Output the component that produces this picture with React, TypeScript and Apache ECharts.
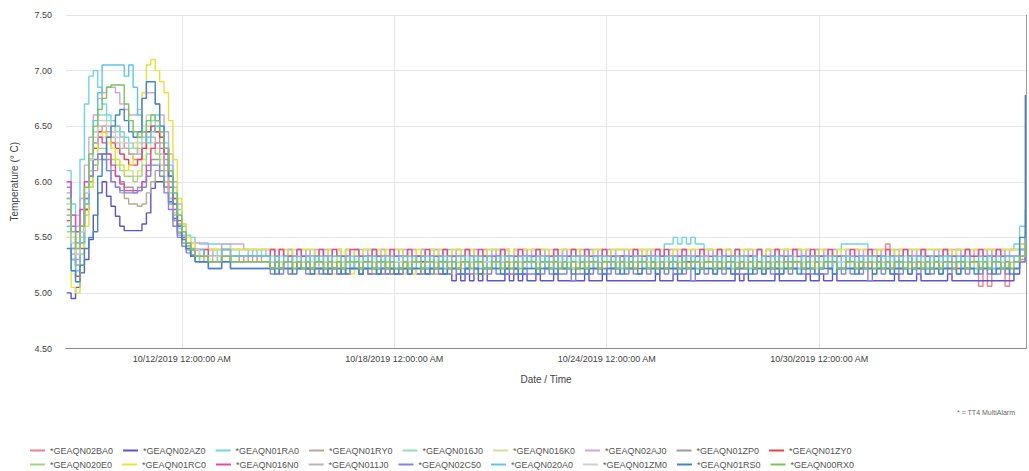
import React, { useEffect, useRef } from "react";
import * as echarts from "echarts";

const SERIES_NAMES = [
  "*GEAQN02BA0", "*GEAQN02AZ0", "*GEAQN01RA0", "*GEAQN01RY0", "*GEAQN016J0", "*GEAQN016K0",
  "*GEAQN02AJ0", "*GEAQN01ZP0", "*GEAQN01ZY0", "*GEAQN020E0", "*GEAQN01RC0", "*GEAQN016N0",
  "*GEAQN011J0", "*GEAQN02C50", "*GEAQN020A0", "*GEAQN01ZM0", "*GEAQN01RS0", "*GEAQN00RX0",
];
const SERIES_COLORS = [
  "#e58592", "#5a55c8", "#72d3e2", "#b9a993", "#96dcb8", "#d9dc9c",
  "#c6a9e3", "#9c9c9c", "#e2444f", "#9fd67f", "#e6e23a", "#e04aa6",
  "#beb3b3", "#8383e3", "#5ec6ea", "#cfcfcf", "#4584c8", "#79c45c",
];

// x values are days relative to 10/12/2019 12:00:00 AM
const X_TICK_DAYS = [0, 6, 12, 18];
const X_TICK_LABELS = [
  "10/12/2019 12:00:00 AM", "10/18/2019 12:00:00 AM", "10/24/2019 12:00:00 AM", "10/30/2019 12:00:00 AM",
];

// warm-up period, sampled every 3 hours
const PEAK_START = -3.25;
const PEAK_STEP = 0.125;
const PEAK_02BA0 = [5.70, 5.40, 5.30, 5.55, 5.85, 6.10, 6.30, 6.45, 6.50, 6.50, 6.45, 6.50, 6.40, 6.30, 6.25, 6.20, 6.20, 6.30, 6.45, 6.50, 6.45, 6.35, 6.20, 6.00, 5.80, 5.62, 5.52, 5.45, 5.40, 5.39, 5.39, 5.33, 5.39, 5.33, 5.33];
const PEAK_02AZ0 = [5.00, 4.95, 5.05, 5.18, 5.30, 5.48, 5.70, 5.90, 6.00, 5.87, 5.78, 5.69, 5.60, 5.56, 5.56, 5.56, 5.56, 5.62, 5.72, 5.94, 6.00, 6.00, 5.95, 5.82, 5.67, 5.54, 5.45, 5.39, 5.34, 5.33, 5.33, 5.33, 5.28, 5.28, 5.28];
const PEAK_01RA0 = [6.10, 5.80, 5.70, 6.20, 6.70, 6.95, 7.00, 6.85, 6.70, 6.60, 6.55, 6.50, 6.45, 6.40, 6.35, 6.30, 6.25, 6.30, 6.40, 6.55, 6.60, 6.50, 6.35, 6.15, 5.95, 5.75, 5.60, 5.52, 5.50, 5.45, 5.45, 5.45, 5.44, 5.44, 5.44];
const PEAK_01RY0 = [5.90, 5.50, 5.35, 5.50, 5.75, 5.95, 6.10, 6.20, 6.20, 6.10, 6.00, 5.95, 5.90, 5.85, 5.80, 5.80, 5.78, 5.80, 5.90, 6.00, 6.10, 6.10, 6.00, 5.85, 5.70, 5.55, 5.45, 5.39, 5.33, 5.33, 5.33, 5.28, 5.28, 5.28, 5.28];
const PEAK_016J0 = [5.85, 5.45, 5.25, 5.50, 5.90, 6.20, 6.45, 6.60, 6.60, 6.55, 6.50, 6.45, 6.40, 6.35, 6.30, 6.30, 6.35, 6.40, 6.50, 6.55, 6.50, 6.40, 6.25, 6.05, 5.85, 5.65, 5.52, 5.45, 5.39, 5.39, 5.39, 5.33, 5.33, 5.39, 5.33];
const PEAK_016K0 = [5.80, 5.50, 5.40, 5.60, 5.90, 6.10, 6.30, 6.40, 6.40, 6.35, 6.30, 6.20, 6.15, 6.10, 6.10, 6.05, 6.10, 6.20, 6.30, 6.35, 6.30, 6.20, 6.05, 5.90, 5.75, 5.60, 5.50, 5.45, 5.45, 5.39, 5.39, 5.39, 5.39, 5.39, 5.39];
const PEAK_02AJ0 = [6.00, 5.70, 5.60, 5.85, 6.15, 6.40, 6.60, 6.75, 6.80, 6.85, 6.85, 6.80, 6.70, 6.65, 6.60, 6.60, 6.65, 6.75, 6.80, 6.80, 6.70, 6.60, 6.45, 6.25, 6.00, 5.80, 5.62, 5.50, 5.45, 5.45, 5.44, 5.44, 5.39, 5.39, 5.39];
const PEAK_01ZP0 = [5.75, 5.40, 5.25, 5.45, 5.75, 6.00, 6.15, 6.25, 6.25, 6.20, 6.10, 6.05, 6.00, 5.95, 5.95, 5.90, 5.95, 6.00, 6.10, 6.20, 6.20, 6.10, 5.95, 5.80, 5.65, 5.52, 5.45, 5.39, 5.33, 5.33, 5.28, 5.28, 5.28, 5.28, 5.28];
const PEAK_01ZY0 = [5.65, 5.30, 5.15, 5.40, 5.75, 6.05, 6.30, 6.45, 6.45, 6.40, 6.35, 6.30, 6.25, 6.20, 6.15, 6.15, 6.20, 6.30, 6.45, 6.50, 6.45, 6.40, 6.25, 6.05, 5.85, 5.65, 5.50, 5.42, 5.39, 5.33, 5.33, 5.33, 5.28, 5.28, 5.28];
const PEAK_020E0 = [5.55, 5.20, 5.10, 5.35, 5.70, 5.95, 6.15, 6.30, 6.30, 6.25, 6.20, 6.15, 6.10, 6.05, 6.05, 6.00, 6.05, 6.15, 6.25, 6.30, 6.25, 6.15, 6.00, 5.85, 5.70, 5.55, 5.45, 5.39, 5.33, 5.33, 5.28, 5.28, 5.28, 5.28, 5.28];
const PEAK_01RC0 = [5.50, 5.05, 5.00, 5.25, 5.60, 5.95, 6.20, 6.40, 6.45, 6.40, 6.30, 6.20, 6.15, 6.10, 6.15, 6.25, 6.45, 6.80, 7.05, 7.10, 7.00, 6.90, 6.80, 6.55, 6.20, 5.85, 5.62, 5.50, 5.45, 5.39, 5.39, 5.39, 5.39, 5.39, 5.39];
const PEAK_016N0 = [6.00, 5.70, 5.55, 5.75, 6.00, 6.20, 6.35, 6.40, 6.35, 6.25, 6.15, 6.05, 5.98, 5.92, 5.92, 5.92, 5.92, 6.00, 6.15, 6.30, 6.35, 6.30, 6.15, 5.95, 5.75, 5.60, 5.50, 5.45, 5.39, 5.39, 5.33, 5.39, 5.33, 5.33, 5.33];
const PEAK_011J0 = [5.70, 5.35, 5.25, 5.45, 5.80, 6.10, 6.35, 6.50, 6.50, 6.45, 6.40, 6.35, 6.30, 6.30, 6.25, 6.25, 6.30, 6.35, 6.40, 6.40, 6.35, 6.25, 6.10, 5.90, 5.72, 5.58, 5.48, 5.42, 5.39, 5.33, 5.33, 5.33, 5.33, 5.28, 5.33];
const PEAK_02C50 = [5.95, 5.60, 5.45, 5.60, 5.85, 6.05, 6.20, 6.25, 6.20, 6.10, 6.00, 5.95, 5.92, 5.90, 5.90, 5.90, 5.92, 5.95, 6.05, 6.15, 6.15, 6.05, 5.90, 5.75, 5.60, 5.50, 5.42, 5.36, 5.33, 5.28, 5.28, 5.28, 5.22, 5.22, 5.22];
const PEAK_020A0 = [5.60, 5.30, 5.20, 5.45, 5.80, 6.20, 6.55, 6.80, 7.05, 7.05, 7.05, 7.05, 7.05, 6.95, 7.05, 6.85, 6.60, 6.45, 6.35, 6.45, 6.50, 6.45, 6.30, 6.10, 5.90, 5.70, 5.55, 5.45, 5.39, 5.39, 5.39, 5.33, 5.33, 5.33, 5.33];
const PEAK_01ZM0 = [5.80, 5.45, 5.35, 5.55, 5.90, 6.20, 6.40, 6.55, 6.55, 6.50, 6.45, 6.40, 6.35, 6.35, 6.35, 6.35, 6.40, 6.50, 6.60, 6.60, 6.55, 6.45, 6.30, 6.10, 5.90, 5.70, 5.55, 5.45, 5.39, 5.39, 5.33, 5.33, 5.33, 5.33, 5.33];
const PEAK_01RS0 = [5.40, 5.20, 5.10, 5.25, 5.40, 5.50, 5.55, 6.05, 6.25, 6.40, 6.50, 6.60, 6.65, 6.55, 6.45, 6.40, 6.45, 6.75, 6.90, 6.90, 6.70, 6.50, 6.30, 6.05, 5.80, 5.60, 5.48, 5.40, 5.33, 5.28, 5.28, 5.28, 5.22, 5.22, 5.22];
const PEAK_00RX0 = [5.85, 5.55, 5.40, 5.60, 5.95, 6.25, 6.50, 6.65, 6.75, 6.85, 6.87, 6.87, 6.87, 6.70, 6.55, 6.45, 6.40, 6.45, 6.55, 6.60, 6.55, 6.45, 6.30, 6.10, 5.90, 5.70, 5.55, 5.45, 5.39, 5.33, 5.33, 5.33, 5.28, 5.28, 5.28];

// steady period, sampled every 3 hours; each digit is an index into FLAT_LEVELS (0.1 °F steps)
const FLAT_START = 1.125;
const FLAT_STEP = 0.125;
const FLAT_LEVELS = [5.0, 5.06, 5.11, 5.17, 5.22, 5.28, 5.33, 5.39, 5.44, 5.5];
const FLAT_02BA0 = "6655656565 5656565565 6565656655 5656656565 6556565656 5665656565 6565565656 5656656556 6565656565 5656565656 6565665656 5656565566 6565656565 5656565656 6565656565 8656565656 5656565656 5151655156";
const FLAT_02AZ0 = "6655555555 5454545454 4444343434 4343434343 3434343433 3323232323 2222323232 2322232222 2232223222 2222222232 2232222222 2222223232 2222232222 2232232232 2222222222 2232222322 2222322222 2222222223";
const FLAT_01RA0 = "8877776767 6767676776 7676767676 6767767676 7676676767 6767676767 7676767676 6767676767 7676767676 6767676776 8898989887 7676767676 6767676767 7676767676 8888887676 6767676767 7676767676 6767676778";
const FLAT_01RY0 = "7766555555 5454555445 4554455454 5455545445 4545554454 5545455545 4554545455 5455454545 4545545554 5454554545 4554545455 5454554545 4555454545 5454545554 4545455454 5455454545 4545545545 5454554544";
const FLAT_016J0 = "8877666666 6565566565 5656656565 6556656656 5665656565 6656565566 5656656565 6565656656 5665565656 6565656565 6656565656 5656656565 6565565656 5656565665 6565656565 5655656565 6565565656 5656565565";
const FLAT_016K0 = "8877777777 7676776767 6767767676 7677676767 6767676776 7676767767 6776767676 7676776767 6767676767 7767676776 6767767676 7676767677 6767676767 7676776767 6767676767 7767676776 6767767676 7676767677";
const FLAT_02AJ0 = "8888877777 7767676767 6767677676 7676767667 6767676776 7667676767 6767767676 7676676767 6767676767 7676767676 6776767676 7676767667 6767676767 7676767676 6767676767 7676767676 6767677676 7676767677";
const FLAT_01ZP0 = "6655555555 5454545554 4545545454 5454454545 4545545454 5454545445 4545454554 5454545454 4554545454 5454554545 4545454545 5455454545 4545545454 5454545454 4545455454 5454545454 4545454545 5454545455";
const FLAT_01ZY0 = "6655555555 5454565454 4545454565 5456545454 4545654545 5454545456 4565454545 5454565454 4545454545 6545456545 4545654545 5454545456 4545456545 5456545454 4545454565 5454565454 4545454545 5456545455";
const FLAT_020E0 = "6655555555 5545454455 4454545544 5545454545 4545544545 5454545455 4545454545 5454455454 4545545454 5454545454 4544545454 5454545455 4545454545 5454545454 4544545544 5454454545 4545545454 5454545455";
const FLAT_01RC0 = "7777777777 7777737777 7373737373 7377373737 7373737737 7377377373 7777737777 7777677777 7373777677 7777767777 7677777767 7777767777 7767777777 7777677767 7777777677 7767777777 7777767777 7677777777";
const FLAT_016N0 = "7766666666 6767666766 6676676667 7666766676 6676667666 7666676676 6667666766 6766676667 6676667666 6667666676 7666766676 6676667666 6766676667 6667666766 6676667666 7666766676 6667666676 6766676666";
const FLAT_011J0 = "6655555555 5565556555 6555655565 5556555655 5655565556 5556555655 6555655565 5565556555 5655565556 5556555655 5655565556 5565556555 6555655565 5556555655 5655565556 5565556555 6555655565 5556555656";
const FLAT_02C50 = "5544444444 4343434443 3434343434 4343343434 3434434343 4343343434 3433434343 3434343342 3343434343 4343343434 3434342343 4343434334 3434343434 4343433434 3434342343 4343434343 3434343434 4343434344";
const FLAT_020A0 = "7766666666 6464646646 4646466464 6464646464 6646464646 4646646464 6464664646 4646464646 6464646646 4646646464 6464646464 4646464664 6464646464 4646646464 6464646646 4646464664 6464646464 4646464666";
const FLAT_01ZM0 = "6655555555 5555455555 5545555555 5555555455 5555545555 5455555555 5555555545 5555455555 5545555555 5555555455 5555545555 5455555555 5555555545 5555455555 5545555555 5555555455 5555545555 5455555555";
const FLAT_01RS0 = "5544444444 4434443444 3443444344 4344434443 4434443444 3444344434 4443444344 4344434443 4434443444 3444344434 4443444344 4344434443 4434443444 3444344434 4443444344 4344434443 4434443444 3444344434";
const FLAT_00RX0 = "6655555555 5454554545 4554545455 5455455454 4545545545 5454554554 4554545455 5455454545 4545545554 5454554545 4554545545 5454554545 4545454545 5454545554 4554545454 5455454545 4545545545 5454554545";

// last readings (days after 10/12/2019)
const END_TIMES = [23.66, 23.82];
const END_02BA0 = [5.30, 5.33];
const END_02AZ0 = [5.28, 5.45];
const END_01RA0 = [5.60, 5.75];
const END_01RY0 = [5.33, 5.45];
const END_016J0 = [5.39, 5.50];
const END_016K0 = [5.44, 5.50];
const END_02AJ0 = [5.44, 5.55];
const END_01ZP0 = [5.33, 5.39];
const END_01ZY0 = [5.33, 5.39];
const END_020E0 = [5.33, 5.45];
const END_01RC0 = [5.44, 5.50];
const END_016N0 = [5.39, 5.50];
const END_011J0 = [5.39, 5.45];
const END_02C50 = [5.28, 5.39];
const END_020A0 = [5.39, 5.60];
const END_01ZM0 = [5.33, 5.45];
const END_01RS0 = [5.50, 6.78];
const END_00RX0 = [5.33, 5.45];

const PEAKS = [PEAK_02BA0, PEAK_02AZ0, PEAK_01RA0, PEAK_01RY0, PEAK_016J0, PEAK_016K0, PEAK_02AJ0, PEAK_01ZP0, PEAK_01ZY0, PEAK_020E0, PEAK_01RC0, PEAK_016N0, PEAK_011J0, PEAK_02C50, PEAK_020A0, PEAK_01ZM0, PEAK_01RS0, PEAK_00RX0];
const FLATS = [FLAT_02BA0, FLAT_02AZ0, FLAT_01RA0, FLAT_01RY0, FLAT_016J0, FLAT_016K0, FLAT_02AJ0, FLAT_01ZP0, FLAT_01ZY0, FLAT_020E0, FLAT_01RC0, FLAT_016N0, FLAT_011J0, FLAT_02C50, FLAT_020A0, FLAT_01ZM0, FLAT_01RS0, FLAT_00RX0];
const ENDS = [END_02BA0, END_02AZ0, END_01RA0, END_01RY0, END_016J0, END_016K0, END_02AJ0, END_01ZP0, END_01ZY0, END_020E0, END_01RC0, END_016N0, END_011J0, END_02C50, END_020A0, END_01ZM0, END_01RS0, END_00RX0];

function buildSeriesData(idx: number): [number, number][] {
  const pts: [number, number][] = [];
  PEAKS[idx].forEach((v, i) => pts.push([PEAK_START + i * PEAK_STEP, v]));
  FLATS[idx].replace(/\s/g, "").split("").forEach((ch, k) => {
    pts.push([FLAT_START + k * FLAT_STEP, FLAT_LEVELS[Number(ch)]]);
  });
  ENDS[idx].forEach((v, i) => pts.push([END_TIMES[i], v]));
  return pts;
}

const FONT = "'Liberation Sans', Arial, sans-serif";

export default function App() {
  const ref = useRef<HTMLDivElement>(null);
  useEffect(() => {
    if (!ref.current) return;
    const chart = echarts.init(ref.current, undefined, { renderer: "svg" });
    const legendCommon = {
      left: 25,
      orient: "horizontal",
      icon: "rect",
      itemWidth: 15,
      itemHeight: 2,
      itemGap: 10,
      selectedMode: false,
      textStyle: { fontFamily: FONT, fontSize: 9, color: "#555", width: 62, padding: [0, 0, 0, 0] },
    };
    chart.setOption({
      animation: false,
      textStyle: { fontFamily: FONT },
      grid: { left: 66, right: 3, top: 15, bottom: 122.5, containLabel: false },
      legend: [
        { ...legendCommon, top: 441, data: SERIES_NAMES.slice(0, 9) },
        { ...legendCommon, top: 455, data: SERIES_NAMES.slice(9, 18) },
      ],
      graphic: [
        {
          type: "text",
          left: 957,
          top: 409,
          style: { text: "* = TT4 MultiAlarm", fontSize: 7, fill: "#666", fontFamily: FONT },
        },
      ],
      xAxis: {
        type: "value",
        min: -3.27,
        max: 23.84,
        name: "Date / Time",
        nameLocation: "middle",
        nameGap: 26,
        nameTextStyle: { fontSize: 10, color: "#444", fontFamily: FONT },
        axisLine: { show: true, lineStyle: { color: "#888", width: 1 } },
        axisTick: { show: false, customValues: X_TICK_DAYS },
        axisLabel: {
          customValues: X_TICK_DAYS,
          fontSize: 9,
          color: "#444",
          margin: 6,
          formatter: (v: number) => {
            const i = X_TICK_DAYS.findIndex((t) => Math.abs(t - v) < 1e-6);
            return i >= 0 ? X_TICK_LABELS[i] : "";
          },
        },
        splitLine: { show: true, lineStyle: { color: "#e6e6e6", width: 1 } },
      },
      yAxis: [
        {
          type: "value",
          min: 4.5,
          max: 7.5,
          interval: 0.5,
          name: "Temperature (° C)",
          nameLocation: "middle",
          nameGap: 47,
          nameTextStyle: { fontSize: 10, color: "#444", fontFamily: FONT },
          axisLine: { show: false },
          axisTick: { show: false },
          axisLabel: { fontSize: 9, color: "#444", margin: 14, formatter: (v: number) => v.toFixed(2) },
          splitLine: { show: true, lineStyle: { color: "#e6e6e6", width: 1 } },
        },
        {
          type: "value",
          position: "right",
          min: 4.5,
          max: 7.5,
          axisLine: { show: true, lineStyle: { color: "#999", width: 1 } },
          axisTick: { show: false },
          axisLabel: { show: false },
          splitLine: { show: false },
        },
      ],
      series: SERIES_NAMES.map((name, idx) => ({
        name,
        type: "line",
        step: "end",
        showSymbol: false,
        symbol: "none",
        silent: true,
        color: SERIES_COLORS[idx],
        lineStyle: { width: 1.4, color: SERIES_COLORS[idx] },
        emphasis: { disabled: true },
        data: buildSeriesData(idx),
      })),
    });
    return () => chart.dispose();
  }, []);
  return (
    <div
      ref={ref}
      style={{ position: "fixed", left: 0, top: 0, width: 1029, height: 471, background: "#fff" }}
    />
  );
}
